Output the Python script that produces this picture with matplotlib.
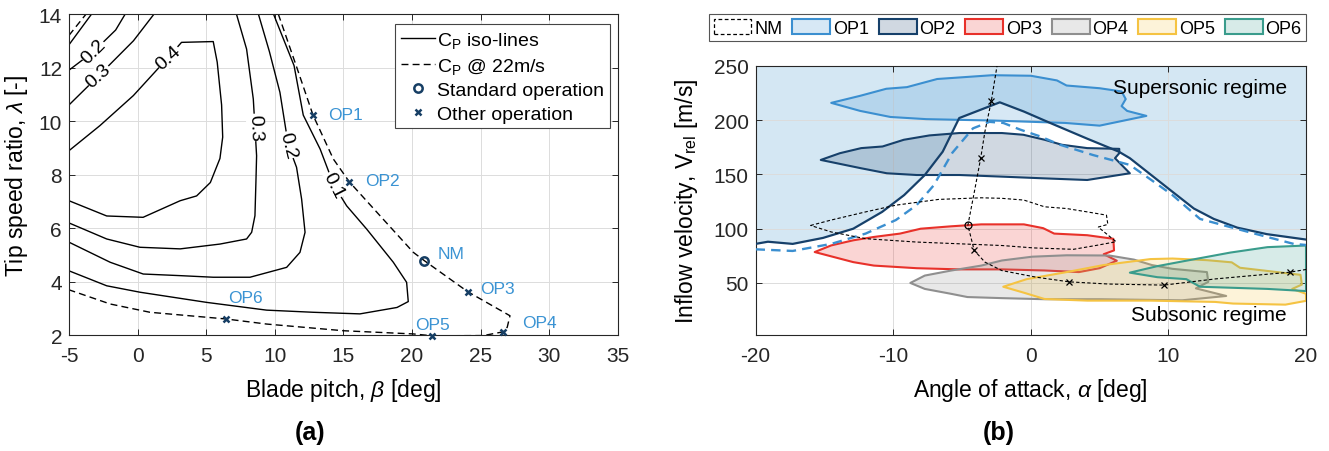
import numpy as np
import matplotlib
matplotlib.use("Agg")
import matplotlib.pyplot as plt
from matplotlib.colors import to_rgba
from matplotlib.lines import Line2D
from matplotlib.patches import Patch, Polygon

plt.rcParams.update({
    "font.family": "Liberation Sans",
    "mathtext.fontset": "custom",
    "mathtext.rm": "Liberation Sans",
    "mathtext.it": "Liberation Sans:italic",
    "mathtext.bf": "Liberation Sans:bold",
    "axes.unicode_minus": False,
    "axes.edgecolor": "#262626",
    "axes.linewidth": 0.8,
    "xtick.color": "#262626",
    "ytick.color": "#262626",
})

# =============================================================================
# (a) Cp iso-lines and Cp @ 22 m/s: (beta [deg], lambda [-])
# =============================================================================
iso_01 = np.array([[9.9, 14], [11.4, 12.07], [12.07, 10.22], [13.3, 8.95], [14.3, 7.6],
                   [15.23, 6.83], [16.69, 5.96], [18.63, 4.72], [19.6, 3.97], [19.72, 3.25],
                   [18.9, 3.03], [16.2, 2.79], [12.8, 2.85], [9.4, 2.93], [5.03, 3.22],
                   [0.17, 3.6], [-2.25, 3.84], [-5, 4.4]])
iso_01_corner = np.array([[-5, 12.85], [-3.35, 14]])
iso_02 = np.array([[8.8, 14], [9.6, 12.6], [10.37, 11.07], [10.98, 9.1], [11.58, 8.27],
                   [11.95, 7.08], [12.2, 5.84], [11.83, 5.09], [10.86, 4.53], [8.19, 4.16],
                   [5.51, 4.16], [3.09, 4.22], [0.41, 4.28], [-2.0, 4.72], [-5, 5.47]])
iso_02_corner = np.array([[-5, 11.9], [-3.2, 12.6], [-1.6, 13.4], [-0.9, 14]])
iso_03 = np.array([[7.2, 14], [7.94, 12.69], [8.43, 10.82], [8.55, 9.76], [8.67, 8.7],
                   [8.62, 7.71], [8.55, 6.46], [8.31, 5.84], [7.94, 5.59], [6.0, 5.4],
                   [3.1, 5.22], [0.17, 5.28], [-2.25, 5.59], [-5, 6.19]])
iso_03_corner = np.array([[-5, 10.6], [-2.84, 11.69], [-0.3, 13.0], [1.2, 14]])
iso_04 = np.array([[-5, 8.89], [-2.74, 9.83], [-0.31, 10.95], [2.24, 12.38], [3.2, 12.94],
                   [5.51, 12.97], [5.8, 12.2], [6.12, 10.6], [6.2, 9.4], [6.0, 8.6],
                   [5.3, 7.7], [4.3, 7.2], [3.1, 7.02], [0.4, 6.4], [-2.25, 6.45], [-5, 7.02]])

cp22 = np.array([[10.25, 14], [11.6, 12.0], [12.78, 10.22], [14.26, 8.58], [15.42, 7.73],
                 [17.66, 6.46], [20.09, 5.09], [20.89, 4.78], [24.05, 3.62], [27.13, 2.72],
                 [26.93, 2.29], [26.64, 2.12], [25.2, 1.98], [21.47, 1.97], [20.1, 2.04],
                 [15.0, 2.16], [9.4, 2.41], [6.44, 2.6], [0.9, 2.85], [-2.0, 3.16], [-5, 3.69]])
cp22_corner = np.array([[-5, 13.2], [-3.75, 14]])

iso_labels = ["0.2", "0.3", "0.4", "0.3", "0.2", "0.1"]
iso_label_beta = [-3.2, -2.84, 2.24, 8.55, 10.98, 14.3]
iso_label_lam = [12.6, 11.69, 12.38, 9.76, 9.1, 7.6]
iso_label_rot = [45, 42, 42, -88, -76, -63]

op_names = ["OP1", "OP2", "OP3", "OP4", "OP5", "OP6"]
op_beta = [12.78, 15.42, 24.05, 26.64, 21.47, 6.44]
op_lam = [10.22, 7.73, 3.62, 2.12, 1.97, 2.6]
op_text_beta = [13.9, 16.57, 24.95, 27.99, 20.2, 6.56]
op_text_lam = [10.26, 7.77, 3.75, 2.47, 2.41, 3.41]
nm_beta, nm_lam = 20.89, 4.78
nm_text_beta, nm_text_lam = 21.83, 5.03

# =============================================================================
# (b) operating envelopes: (alpha [deg], V_rel [m/s])
# =============================================================================
sonic_solid = np.array([[-20, 86], [-19.1, 88], [-17.3, 86], [-15.1, 91.5], [-12.9, 100],
                        [-10.8, 115.5], [-9.2, 131], [-7.7, 149.5], [-6.4, 171], [-5.2, 202],
                        [-2.25, 216.5], [-0.5, 208], [1.5, 197], [4.1, 183], [6.4, 171],
                        [7.2, 165], [8.75, 149.5], [10.3, 134], [11.85, 118.6], [13.3, 109],
                        [15.0, 101], [17.15, 95], [20, 90]])
sonic_dashed = np.array([[-20, 81], [-17.3, 79.5], [-14.5, 86], [-12, 95.5], [-9.8, 108],
                         [-8.3, 121.7], [-7.05, 140], [-5.7, 170], [-4.2, 192.5], [-3, 198.5],
                         [-2, 197.5], [-0.8, 191.5], [0.7, 185], [2.1, 177.5], [4.5, 168],
                         [7.2, 158.8], [8.75, 145], [10.3, 131], [12.3, 109], [15.9, 96.7],
                         [19.1, 86], [20, 85]])

env_nm = np.array([[-16, 103], [-14.5, 108], [-12, 115.5], [-9.8, 121.7], [-6.7, 127],
                   [-3.6, 128.5], [-2.1, 128], [-0.5, 126.4], [1, 120.2], [2.6, 118.6],
                   [4.1, 115.5], [5.5, 112.5], [5.6, 104], [4.9, 101.5], [6.2, 88],
                   [4.8, 84.7], [3.1, 81], [0.2, 82.3], [-2.1, 84.5], [-8.3, 87.7],
                   [-12, 90.8], [-14.5, 97]])
env_op1 = np.array([[-14.5, 216], [-12.4, 222.5], [-10.5, 229], [-9.0, 230.5], [-6.8, 238],
                    [-2.8, 241.5], [0, 241], [1.9, 236.7], [2.6, 232], [5.0, 229.5],
                    [6.6, 226.5], [6.9, 219.5], [6.6, 213], [7.0, 208.6], [8.4, 204],
                    [5.0, 195], [2.5, 197.5], [-2.7, 199.7], [-7.6, 201], [-10.2, 203],
                    [-12.4, 208.6]])
env_op2 = np.array([[-15.26, 163.4], [-13.87, 169.6], [-12.32, 174.3], [-10.77, 175.8],
                    [-9.22, 182], [-7.36, 186], [-5.19, 188.2], [-2.1, 188.2], [-0.54, 186.6],
                    [1.0, 182], [2.25, 177.4], [4.1, 174.3], [6.43, 173.6], [6.43, 169.6],
                    [6.12, 165], [7.2, 151.1], [5.65, 148], [4.1, 144.9], [1.0, 146.4],
                    [-2.1, 148], [-5.19, 149.5], [-8.29, 149.5], [-10.46, 151.1], [-12.32, 155.7]])
env_op3 = np.array([[-15.7, 78.5], [-14.5, 84.6], [-12.9, 89.3], [-11.4, 92.4], [-9.5, 95.5],
                    [-8, 100], [-5.8, 102.2], [-3.6, 104], [-0.5, 104], [0.9, 100.5],
                    [1.7, 95.5], [4.1, 94], [6, 90.7], [6.05, 80], [5.3, 76.5], [6.25, 70.5],
                    [5.0, 63.6], [3.5, 60], [1, 61.5], [-2.1, 62.5], [-5.2, 62.5],
                    [-8.3, 63.6], [-11.4, 66], [-12.9, 69.2]])
env_op4 = np.array([[-8.75, 50], [-7.7, 56.8], [-5.8, 61.4], [-3.6, 66], [-2.1, 70.7],
                    [0.1, 74.2], [2.6, 75.5], [5.7, 75.3], [7.5, 71.5], [8.8, 66.5],
                    [10.3, 63], [12.8, 60], [12.9, 51], [12.0, 45], [14.2, 38], [11, 34],
                    [5, 35], [1, 35], [-2.1, 36], [-4.6, 37], [-5.8, 40], [-7.7, 44.5]])
env_op5 = np.array([[-2, 46.5], [-0.3, 53.5], [2.6, 60], [5.3, 66.5], [8.7, 72], [10.3, 72.5],
                    [12.8, 71], [14.6, 69], [15.2, 64], [19.6, 57.5], [19.7, 48.5],
                    [19.0, 44.5], [20, 40], [20, 33.5], [18.5, 30], [14.7, 31], [13.4, 32.5],
                    [8.7, 33.7], [4.1, 33.7], [1, 35.2], [-0.5, 41]])
env_op6 = np.array([[7.2, 59.5], [9.2, 65.5], [11.3, 70.5], [14.5, 78], [17.2, 83], [20, 84.5],
                    [20, 42.5], [17.2, 44.5], [12.3, 46.5], [11.3, 53.5], [9.2, 55.3]])

nm_path = np.array([[-2.3, 262], [-2.87, 217.5], [-3.33, 189.7], [-3.64, 165], [-4.1, 134],
                    [-4.57, 103.2], [-4.11, 80], [-3.33, 69.2], [-2.1, 61.4], [0.4, 55.3],
                    [2.8, 51], [5.65, 49], [9.68, 48], [13.4, 53.7], [18.82, 59.9], [20, 62.4]])
path_x_alpha = [-2.87, -3.64, -4.11, 2.8, 9.68, 18.82]
path_x_v = [217.5, 165, 80, 51, 48, 59.9]
path_o_alpha, path_o_v = -4.57, 103.2

env_names = ["NM", "OP1", "OP2", "OP3", "OP4", "OP5", "OP6"]
env_colors = ["black", "#3b8fd0", "#16406a", "#e8312a", "#8f8f8f", "#f5c342", "#3a9c8c"]

# =============================================================================
fig = plt.figure(figsize=(13.29, 4.52), dpi=100)
ax1 = fig.add_axes([0.0519, 0.2566, 0.4131, 0.7102])
ax2 = fig.add_axes([0.5685, 0.2566, 0.4142, 0.5952])

for ax in (ax1, ax2):
    ax.grid(True, color="#dcdcdc", lw=0.7)
    ax.tick_params(direction="in", top=True, right=True, length=4, labelsize=15, width=0.7)
    ax.tick_params(axis="x", pad=8)
    ax.tick_params(axis="y", pad=5)
    ax.set_axisbelow(True)

# ---- (a)
line_kw = dict(color="black", lw=1.0)
for arr in (iso_01, iso_01_corner, iso_02, iso_02_corner, iso_03, iso_03_corner, iso_04):
    ax1.plot(arr[:, 0], arr[:, 1], **line_kw)
for arr in (cp22, cp22_corner):
    ax1.plot(arr[:, 0], arr[:, 1], ls=(0, (5, 3)), clip_on=True, **line_kw)

for txt, b, l, r in zip(iso_labels, iso_label_beta, iso_label_lam, iso_label_rot):
    ax1.text(b, l, txt, fontsize=14, rotation=r, ha="center", va="center",
             rotation_mode="anchor",
             bbox=dict(facecolor="white", edgecolor="none", pad=0.2))

mk_col = "#163e64"
ax1.plot(op_beta, op_lam, ls="none", marker="x", ms=5, mew=1.8, color=mk_col,
         clip_on=False, zorder=5)
ax1.plot([nm_beta], [nm_lam], ls="none", marker="o", ms=6, mew=1.8, mfc="none",
         color=mk_col, zorder=5)
lbl_col = "#3a93d3"
for n, b, l in zip(op_names, op_text_beta, op_text_lam):
    ax1.text(b, l, n, color=lbl_col, fontsize=12.5, ha="left", va="center")
ax1.text(nm_text_beta, nm_text_lam, "NM", color=lbl_col, fontsize=12.5, ha="left", va="center")

ax1.set_xlim(-5, 35)
ax1.set_ylim(2, 14)
ax1.set_xticks(np.arange(-5, 36, 5))
ax1.set_yticks(np.arange(2, 15, 2))
ax1.set_xlabel(r"Blade pitch, $\beta$ [deg]", fontsize=16.5, labelpad=8)
ax1.set_ylabel(r"Tip speed ratio, $\lambda$ [-]", fontsize=16.5, labelpad=6)

leg1_handles = [
    Line2D([], [], color="black", lw=1.0, label=r"C$_\mathregular{P}$ iso-lines"),
    Line2D([], [], color="black", lw=1.0, ls=(0, (5, 3)), label=r"C$_\mathregular{P}$ @ 22m/s"),
    Line2D([], [], ls="none", marker="o", ms=6, mew=1.8, mfc="none", color=mk_col,
           label="Standard operation"),
    Line2D([], [], ls="none", marker="x", ms=5, mew=1.8, color=mk_col, label="Other operation"),
]
leg1 = ax1.legend(handles=leg1_handles, loc="upper right", bbox_to_anchor=(0.9854, 0.9688),
                  borderaxespad=0, fontsize=14, handlelength=1.75, handletextpad=0.1,
                  borderpad=0.3, labelspacing=0.3, fancybox=False, framealpha=1)
leg1.get_frame().set_edgecolor("#444444")
leg1.get_frame().set_linewidth(0.8)

# ---- (b)
top = np.array([[20, 260], [-20, 260]])
sonic_region = np.vstack([sonic_solid, top])
ax2.add_patch(Polygon(sonic_region, closed=True, facecolor=to_rgba("#0072BD", 0.17),
                      edgecolor="none", zorder=0.5))
ax2.plot(sonic_solid[:, 0], sonic_solid[:, 1], color="#16406a", lw=1.6, zorder=3)
ax2.plot(sonic_dashed[:, 0], sonic_dashed[:, 1], color="#3b8fd0", lw=1.7,
         ls=(0, (4, 2.6)), zorder=3)

envs = [env_op1, env_op2, env_op3, env_op4, env_op5, env_op6]
for env, c in zip(envs, env_colors[1:]):
    ax2.add_patch(Polygon(env, closed=True, facecolor=to_rgba(c, 0.2), edgecolor=c,
                          lw=1.5, zorder=2, joinstyle="round"))
ax2.add_patch(Polygon(env_nm, closed=True, facecolor="none", edgecolor="black",
                      lw=0.8, ls=(0, (3, 2)), zorder=4))

ax2.plot(nm_path[:, 0], nm_path[:, 1], color="black", lw=0.8, ls=(0, (3, 2)), zorder=4)
ax2.plot(path_x_alpha, path_x_v, ls="none", marker="x", ms=4.5, mew=0.9, color="black", zorder=5)
ax2.plot([path_o_alpha], [path_o_v], ls="none", marker="o", ms=5, mew=0.9, mfc="none",
         color="black", zorder=5)

ax2.text(18.6, 230, "Supersonic regime", fontsize=15, ha="right", va="center", zorder=6)
ax2.text(18.6, 21, "Subsonic regime", fontsize=15, ha="right", va="center", zorder=6)

ax2.set_xlim(-20, 20)
ax2.set_ylim(2, 250)
ax2.set_xticks(np.arange(-20, 21, 10))
ax2.set_yticks(np.arange(50, 251, 50))
ax2.set_xlabel(r"Angle of attack, $\alpha$ [deg]", fontsize=16.5, labelpad=8)
ax2.set_ylabel(r"Inflow velocity, V$_\mathregular{rel}$ [m/s]", fontsize=16.5, labelpad=10)

leg2_handles = [Patch(facecolor="none", edgecolor="black", lw=0.9, ls=(0, (3, 2)), label="NM")]
for n, c in zip(env_names[1:], env_colors[1:]):
    leg2_handles.append(Patch(facecolor=to_rgba(c, 0.2), edgecolor=c, lw=1.5, label=n))
leg2 = fig.legend(handles=leg2_handles, loc="upper left",
                  bbox_to_anchor=(709 / 1329, 1 - 43 / 452, 597 / 1329, 28 / 452),
                  mode="expand", ncol=7, fontsize=13, handlelength=2.1, handleheight=0.95,
                  handletextpad=0.15, columnspacing=0.5, borderpad=0.25, borderaxespad=0,
                  fancybox=False, framealpha=1)
leg2.get_frame().set_edgecolor("#555555")
leg2.get_frame().set_linewidth(0.8)

fig.text(310 / 1329, 1 - 433 / 452, "(a)", fontsize=18, fontweight="bold", ha="center", va="center")
fig.text(999 / 1329, 1 - 433 / 452, "(b)", fontsize=18, fontweight="bold", ha="center", va="center")

fig.savefig("out.png", dpi=100)
